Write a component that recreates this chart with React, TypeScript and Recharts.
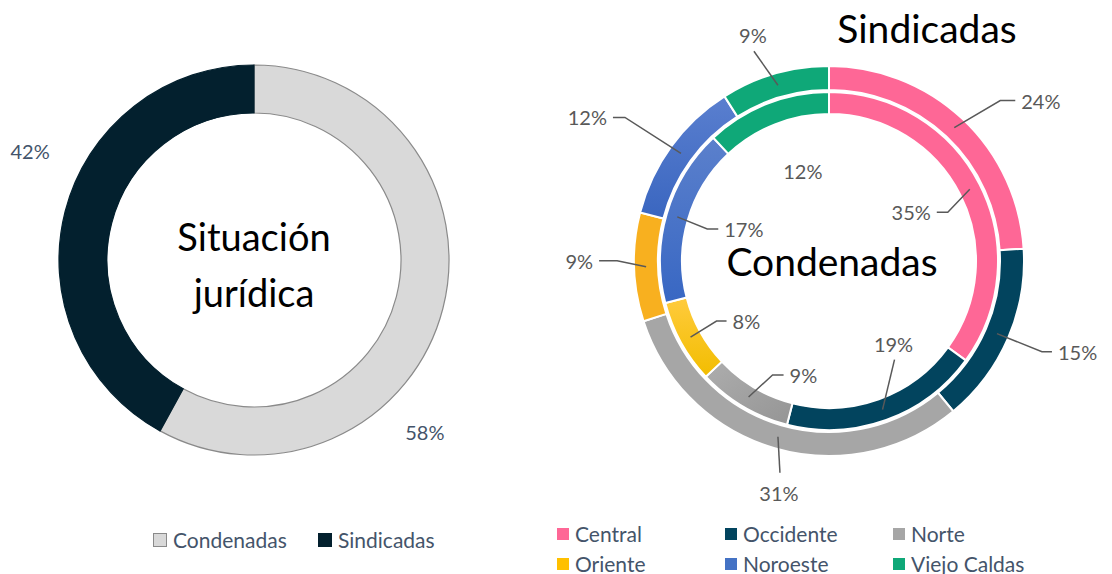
import { Cell, Pie, PieChart } from "recharts";

const juridicaCats = ["Condenadas", "Sindicadas"];
const juridicaValues = [58, 42];

const regions = ["Central", "Occidente", "Norte", "Oriente", "Noroeste", "Viejo Caldas"];
const sindicadasValues = [24, 15, 31, 9, 12, 9];
const condenadasValues = [35, 19, 9, 8, 17, 12];

const FONT = "Lato, 'Open Sans', sans-serif";
const RAD = Math.PI / 180;

const juridicaFill = ["#d9d9d9", "#03202e"];
const outerFill = ["#fe6796", "#02445e", "#a6a6a6", "#f8b01f", "url(#gNoroesteOut)", "#0fa878"];
const innerFill = ["#fe6796", "#02445e", "url(#gNorte)", "url(#gOriente)", "url(#gNoroesteIn)", "#0fa878"];

type Lay = { dx: number; dy: number; mode: "left" | "right" | "up" | "down" | "none"; tail?: number };

// leader line bends, relative to the point on the ring
const outerLayout: Lay[] = [
  { dx: 46, dy: -27, mode: "right", tail: 15 },
  { dx: 45, dy: 18, mode: "right", tail: 10 },
  { dx: 2, dy: 36, mode: "down" },
  { dx: -29, dy: -6, mode: "left", tail: 18 },
  { dx: -56, dy: -36, mode: "left", tail: 12 },
  { dx: -24, dy: -34, mode: "up" },
];
const innerLayout: Lay[] = [
  { dx: -22, dy: 23, mode: "left", tail: 11 },
  { dx: 12, dy: -50, mode: "up" },
  { dx: 24, dy: -22, mode: "right", tail: 11 },
  { dx: 26, dy: -16, mode: "right", tail: 10 },
  { dx: 30, dy: 12, mode: "right", tail: 11 },
  { dx: 32, dy: 57, mode: "none" },
];
const juridicaLayout: Lay[] = [
  { dx: -18, dy: 124, mode: "none" },
  { dx: -35, dy: -61, mode: "none" },
];

function makeLabel(layout: Lay[], ringR: number, color: string) {
  return (props: any) => {
    const { cx, cy, midAngle, index, value } = props;
    const px = cx + ringR * Math.cos(-midAngle * RAD);
    const py = cy + ringR * Math.sin(-midAngle * RAD);
    const L = layout[index];
    const ex = px + L.dx;
    const ey = py + L.dy;
    const txt = `${value}%`;
    const common = { fill: color, fontSize: 20, fontFamily: FONT };
    if (L.mode === "none") {
      return (
        <text x={ex} y={ey} textAnchor="middle" dominantBaseline="central" {...common}>
          {txt}
        </text>
      );
    }
    if (L.mode === "up" || L.mode === "down") {
      const ty = L.mode === "up" ? ey - 16 : ey + 20;
      return (
        <g>
          <polyline points={`${px},${py} ${ex},${ey}`} stroke="#595959" strokeWidth={1.5} fill="none" />
          <text x={ex - 1} y={ty} textAnchor="middle" dominantBaseline="central" {...common}>
            {txt}
          </text>
        </g>
      );
    }
    const sign = L.mode === "right" ? 1 : -1;
    const tx = ex + sign * (L.tail ?? 10);
    return (
      <g>
        <polyline points={`${px},${py} ${ex},${ey} ${tx},${ey}`} stroke="#595959" strokeWidth={1.5} fill="none" />
        <text
          x={tx + sign * 6}
          y={ey}
          textAnchor={sign > 0 ? "start" : "end"}
          dominantBaseline="central"
          {...common}
        >
          {txt}
        </text>
      </g>
    );
  };
}

const juridicaData = juridicaCats.map((name, i) => ({ name, value: juridicaValues[i] }));
const sindicadasData = regions.map((name, i) => ({ name, value: sindicadasValues[i] }));
const condenadasData = regions.map((name, i) => ({ name, value: condenadasValues[i] }));

const legendSwatch = ["#fe6796", "#02445e", "#a6a6a6", "#ffc000", "#4472c4", "#0fa878"];

export default function App() {
  return (
    <div
      style={{
        position: "absolute",
        left: 0,
        top: 0,
        width: 1112,
        height: 574,
        background: "#fff",
        fontFamily: FONT,
      }}
    >
      <PieChart width={1112} height={574} margin={{ top: 0, right: 0, bottom: 0, left: 0 }}>
        <defs>
          <linearGradient id="gNoroesteOut" x1="0" y1="0" x2="0" y2="1">
            <stop offset="0%" stopColor="#5a7fcf" />
            <stop offset="100%" stopColor="#3a66c0" />
          </linearGradient>
          <linearGradient id="gNoroesteIn" x1="0" y1="0" x2="0" y2="1">
            <stop offset="0%" stopColor="#5b80cc" />
            <stop offset="100%" stopColor="#3867c3" />
          </linearGradient>
          <linearGradient id="gOriente" x1="0" y1="0" x2="0" y2="1">
            <stop offset="0%" stopColor="#ffcb3d" />
            <stop offset="100%" stopColor="#f2bd00" />
          </linearGradient>
          <linearGradient id="gNorte" x1="0" y1="0" x2="1" y2="1">
            <stop offset="0%" stopColor="#adadad" />
            <stop offset="100%" stopColor="#959595" />
          </linearGradient>
        </defs>
        <Pie
          data={juridicaData}
          dataKey="value"
          nameKey="name"
          cx={254}
          cy={260}
          innerRadius={147}
          outerRadius={195}
          startAngle={90}
          endAngle={-270}
          isAnimationActive={false}
          labelLine={false}
          label={makeLabel(juridicaLayout, 195, "#44546a")}
        >
          {juridicaData.map((d, i) => (
            <Cell key={d.name} fill={juridicaFill[i]} stroke={i === 0 ? "#8a8a8a" : "#03202e"} strokeWidth={1.2} />
          ))}
        </Pie>
        <Pie
          data={sindicadasData}
          dataKey="value"
          nameKey="name"
          cx={829}
          cy={261}
          innerRadius={171}
          outerRadius={195}
          startAngle={90}
          endAngle={-270}
          isAnimationActive={false}
          labelLine={false}
          label={makeLabel(outerLayout, 183, "#595959")}
        >
          {sindicadasData.map((d, i) => (
            <Cell key={d.name} fill={outerFill[i]} stroke="#ffffff" strokeWidth={2} />
          ))}
        </Pie>
        <Pie
          data={condenadasData}
          dataKey="value"
          nameKey="name"
          cx={829}
          cy={261}
          innerRadius={147}
          outerRadius={169}
          startAngle={90}
          endAngle={-270}
          isAnimationActive={false}
          labelLine={false}
          label={makeLabel(innerLayout, 158, "#595959")}
        >
          {condenadasData.map((d, i) => (
            <Cell key={d.name} fill={innerFill[i]} stroke="#ffffff" strokeWidth={2} />
          ))}
        </Pie>
        <text x={254} y={236} textAnchor="middle" dominantBaseline="central" fontSize={38} fontFamily={FONT} fill="#000">
          Situación
        </text>
        <text x={254} y={292} textAnchor="middle" dominantBaseline="central" fontSize={38} fontFamily={FONT} fill="#000">
          jurídica
        </text>
        <text x={832} y={261} textAnchor="middle" dominantBaseline="central" fontSize={39} fontFamily={FONT} fill="#000">
          Condenadas
        </text>
        <text x={927} y={28} textAnchor="middle" dominantBaseline="central" fontSize={39} fontFamily={FONT} fill="#000">
          Sindicadas
        </text>
      </PieChart>

      {/* left legend */}
      {juridicaCats.map((c, i) => (
        <div
          key={c}
          style={{
            position: "absolute",
            left: i === 0 ? 153 : 318,
            top: 528,
            display: "flex",
            alignItems: "center",
            fontSize: 21,
            color: "#44546a",
            lineHeight: "24px",
          }}
        >
          <span
            style={{
              width: 12,
              height: 12,
              background: juridicaFill[i],
              border: i === 0 ? "1px solid #8a8a8a" : "1px solid #03202e",
              marginRight: 6,
            }}
          />
          {c}
        </div>
      ))}

      {/* right legend */}
      {regions.map((r, i) => (
        <div
          key={r}
          style={{
            position: "absolute",
            left: [557, 725, 893][i % 3],
            top: i < 3 ? 522 : 552,
            display: "flex",
            alignItems: "center",
            fontSize: 21,
            color: "#44546a",
            lineHeight: "24px",
          }}
        >
          <span style={{ width: 12, height: 12, background: legendSwatch[i], marginRight: 6 }} />
          {r}
        </div>
      ))}
    </div>
  );
}
